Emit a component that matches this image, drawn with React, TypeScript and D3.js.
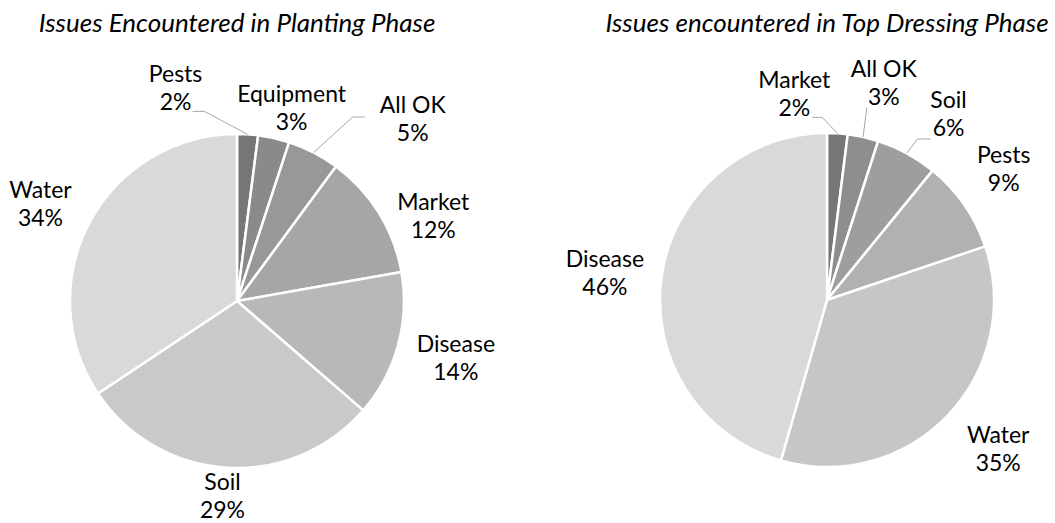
import React from 'react';
import * as d3 from 'd3';

// Planting phase
const plantingCategories = ['Pests', 'Equipment', 'All OK', 'Market', 'Disease', 'Soil', 'Water'];
const plantingValues = [2, 3, 5, 12, 14, 29, 34];
const plantingColors = ['#767676', '#8a8a8a', '#989898', '#a6a6a6', '#b8b8b8', '#c9c9c9', '#d9d9d9'];

// Top dressing phase
const dressingCategories = ['Market', 'All OK', 'Soil', 'Pests', 'Water', 'Disease'];
const dressingValues = [2, 3, 6, 9, 35, 46];
const dressingColors = ['#767676', '#8e8e8e', '#9e9e9e', '#b1b1b1', '#c6c6c6', '#d9d9d9'];

const W = 1055;
const H = 523;
const R = 167;
const LABEL_R = 198;
const FONT = 'Lato, "Open Sans", sans-serif';

// label nudges from the outside-end centroid (excel "best fit" style)
const plantingNudge: [number, number][] = [[-74, -15], [11, 0], [85, -6], [28, 19], [28, 4], [-2, -3], [-22, -3]];
const dressingNudge: [number, number][] = [[-45, -8], [14, -24], [27, -12], [14, -18], [28, 12], [-26, 1]];

// leader lines: [anchor dx, anchor dy, elbow length] relative to label centre
const plantingLeaders: ([number, number, number] | null)[] = [[17, 23, 12], null, [-48, -2, -12], null, null, null, null];
const dressingLeaders: ([number, number, number] | null)[] = [[18, 23, 10], [-17, 25, 0], [-18, 25, -13], null, null, null];

interface PieProps {
  title: string;
  cx: number;
  cy: number;
  categories: string[];
  values: number[];
  colors: string[];
  nudges: [number, number][];
  leaders: ([number, number, number] | null)[];
}

const Pie: React.FC<PieProps> = ({ title, cx, cy, categories, values, colors, nudges, leaders }) => {
  const total = d3.sum(values);
  const arcs = d3.pie<number>().sort(null).value(d => d)(values);
  const arc = d3.arc<d3.PieArcDatum<number>>().innerRadius(0).outerRadius(R);
  const pt = (a: number, r: number): [number, number] => [cx + r * Math.sin(a), cy - r * Math.cos(a)];

  return (
    <g>
      <text x={cx} y={32} textAnchor="middle" fontFamily={FONT} fontStyle="italic" fontSize={26} fill="#000">
        {title}
      </text>
      <g transform={`translate(${cx},${cy})`}>
        {arcs.map((d, i) => (
          <path key={i} d={arc(d) || ''} fill={colors[i]} stroke="#fff" strokeWidth={2.5} strokeLinejoin="round" />
        ))}
      </g>
      {arcs.map((d, i) => {
        const mid = (d.startAngle + d.endAngle) / 2;
        const [bx, by] = pt(mid, LABEL_R);
        const lx = bx + nudges[i][0];
        const ly = by + nudges[i][1];
        const pct = Math.round((values[i] / total) * 100);
        const ld = leaders[i];
        let leader = null;
        if (ld) {
          const ax = lx + ld[0];
          const ay = ly + ld[1];
          const end = pt(mid, R);
          const line = d3.line()([[ax, ay], [ax + ld[2], ay], end]);
          leader = <path d={line || ''} fill="none" stroke="#a6a6a6" strokeWidth={1} />;
        }
        return (
          <g key={'l' + i}>
            {leader}
            <text x={lx} textAnchor="middle" fontFamily={FONT} fontSize={23} fill="#000">
              <tspan x={lx} y={ly - 6}>{categories[i]}</tspan>
              <tspan x={lx} y={ly + 22}>{pct}%</tspan>
            </text>
          </g>
        );
      })}
    </g>
  );
};

export default function App() {
  return (
    <svg width={W} height={H} style={{ position: 'absolute', left: 0, top: 0, background: '#fff' }}>
      <rect width={W} height={H} fill="#fff" />
      <Pie
        title="Issues Encountered in Planting Phase"
        cx={237}
        cy={301}
        categories={plantingCategories}
        values={plantingValues}
        colors={plantingColors}
        nudges={plantingNudge}
        leaders={plantingLeaders}
      />
      <Pie
        title="Issues encountered in Top Dressing Phase"
        cx={827}
        cy={300}
        categories={dressingCategories}
        values={dressingValues}
        colors={dressingColors}
        nudges={dressingNudge}
        leaders={dressingLeaders}
      />
    </svg>
  );
}
